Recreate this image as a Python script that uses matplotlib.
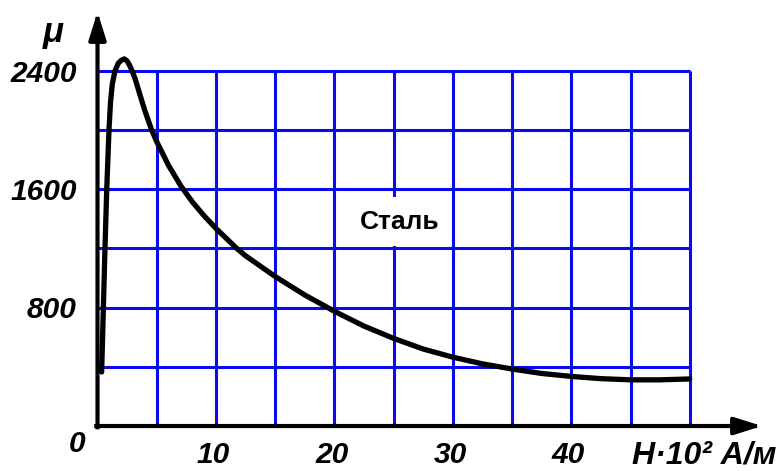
import matplotlib
matplotlib.use("Agg")
import matplotlib.pyplot as plt
from matplotlib.patches import Rectangle

# ---- data ----
H = [0.35, 0.48, 0.62, 0.78, 0.97, 1.1, 1.25, 1.48, 1.75, 2.0, 2.26, 2.5,
     2.7, 2.94, 3.2, 3.59, 4.0, 4.57, 5, 6, 7.05, 8, 9, 10, 11.75, 12.5, 15,
     17.5, 20, 22.5, 25, 27.5, 30, 32.5, 35, 37.5, 40, 42.5, 45, 47.5, 50]
mu = [365, 750, 1170, 1600, 2000, 2190, 2310, 2400, 2450, 2470, 2480, 2466,
      2438, 2395, 2340, 2236, 2130, 2000, 1921, 1760, 1620, 1515, 1420, 1335,
      1200, 1150, 1010, 885, 775, 675, 592, 520, 465, 420, 385, 355, 335, 320,
      312, 312, 318]
x_grid = [5, 10, 15, 20, 25, 30, 35, 40, 45, 50]
y_grid = [400, 800, 1200, 1600, 2000, 2400]
x_ticks = [10, 20, 30, 40]
x_tick_labels = ["10", "20", "30", "40"]
y_ticks = [800, 1600, 2400]
y_tick_labels = ["800", "1600", "2400"]
curve_label = "Сталь"
x_label = "H·10² А/м"
y_label = "μ"

FONT = "Liberation Sans"
BLUE = "#0a0aee"

fig = plt.figure(figsize=(7.8, 4.71), dpi=100)
ax = fig.add_axes([0.125, 0.0955, 0.983 - 0.125, 0.979 - 0.0955])
ax.set_xlim(0, 56.5)
ax.set_ylim(0, 2811)
ax.axis("off")

# grid
ax.vlines(x_grid, 0, max(y_grid), color=BLUE, lw=2.2, zorder=1)
ax.hlines(y_grid, 0, max(x_grid), color=BLUE, lw=2.2, zorder=1)

# white box behind the label
ax.add_patch(Rectangle((21.8, 1215), 7.4, 330, facecolor="white",
                       edgecolor="none", zorder=2))
ax.text(25.5, 1380, curve_label, fontfamily=FONT, fontweight="bold",
        fontsize=19, ha="center", va="center", zorder=3)

# curve
ax.plot(H, mu, color="black", lw=3.8, solid_capstyle="round",
        solid_joinstyle="round", zorder=4)

# axes with arrows
arrow = dict(arrowstyle="-|>,head_length=1.65,head_width=0.52",
             mutation_scale=10, lw=3, color="black", shrinkA=0, shrinkB=0,
             capstyle="projecting")
ax.annotate("", xy=(56.1, 0), xytext=(-0.1, 0), arrowprops=arrow,
            annotation_clip=False, zorder=5)
ax.annotate("", xy=(0, 2797), xytext=(0, -8), arrowprops=arrow,
            annotation_clip=False, zorder=5)

tfont = dict(fontfamily=FONT, fontweight="bold", fontstyle="italic",
             fontsize=21.5)
for v, lab in zip(y_ticks, y_tick_labels):
    ax.annotate(lab, xy=(0, v), xytext=(-15, -2), textcoords="offset points",
                ha="right", va="center", annotation_clip=False, **tfont)
for v, lab in zip(x_ticks, x_tick_labels):
    ax.annotate(lab, xy=(v, 0), xytext=(-2, -21), textcoords="offset points",
                ha="center", va="center", annotation_clip=False, **tfont)
ax.annotate("0", xy=(0, 0), xytext=(-15, -13), textcoords="offset points",
            ha="center", va="center", annotation_clip=False, **tfont)
ax.annotate(x_label, xy=(56.1, 0), xytext=(10.5, -21),
            textcoords="offset points", ha="right", va="center",
            annotation_clip=False, fontfamily=FONT, fontweight="bold",
            fontstyle="italic", fontsize=23)
ax.annotate(y_label, xy=(0, 2797), xytext=(-32, -15),
            textcoords="offset points", ha="center", va="center",
            annotation_clip=False, fontfamily=FONT, fontweight="bold",
            fontstyle="italic", fontsize=25)

fig.savefig("out.png", dpi=100, facecolor="white")
